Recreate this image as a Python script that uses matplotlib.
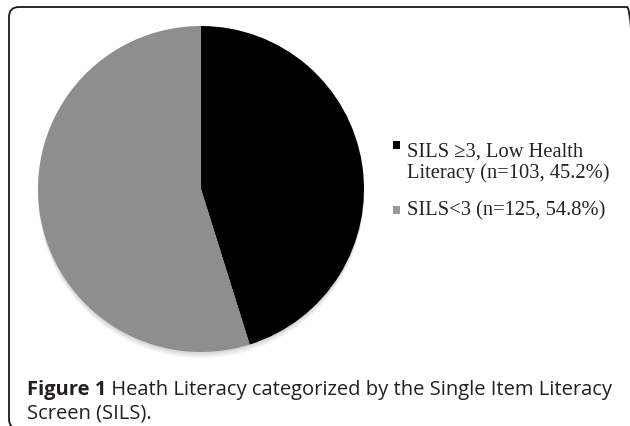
import matplotlib.pyplot as plt
from matplotlib.patches import FancyBboxPatch, Rectangle, Circle
from matplotlib.transforms import IdentityTransform

W, H = 630, 427

labels = ["SILS \u22653, Low Health\nLiteracy", "SILS<3"]
counts = [103, 125]
colors = ["#000000", "#8e8e8e"]
legend_colors = ["#000000", "#999999"]
caption_bold = "Figure 1"
caption_rest = " Heath Literacy categorized by the Single Item Literacy"
caption_line2 = "Screen (SILS)."

total = sum(counts)
pcts = [100 * c / total for c in counts]

fig = plt.figure(figsize=(W / 100, H / 100), dpi=100)


def fx(px):
    return px / W


def fy(py):
    return 1 - py / H


# rounded frame, cut off at right and bottom like the original crop (pixel units)
frame = FancyBboxPatch((9, H - 430), 628, 422,
                       boxstyle="round,pad=0,rounding_size=10",
                       transform=IdentityTransform(), facecolor="none",
                       edgecolor="#1a1a1a", linewidth=1.3)
fig.patches.append(frame)

# pie
cx, cy, r = 201, 190, 163
ax = fig.add_axes([fx(cx - r), fy(cy + r), 2 * r / W, 2 * r / H])
ax.set_aspect("equal")
ax.axis("off")

# soft shadow under the pie
for i in range(3):
    ax.add_patch(Circle((0, -0.012 * (i + 1)), 1.0, color="black", alpha=0.05,
                        linewidth=0, clip_on=False))

ax.pie(counts, colors=colors, startangle=90, counterclock=False, radius=1.0,
       wedgeprops=dict(linewidth=0))
ax.set_xlim(-1.0, 1.0)
ax.set_ylim(-1.0, 1.0)

# legend
rows = [(163, 146), (211, 211)]
for lab, n, p, col, (ty, my) in zip(labels, counts, pcts, legend_colors, rows):
    fig.patches.append(Rectangle((fx(392.5), fy(my + 3.5)), 7.5 / W, 7.5 / H,
                                 transform=fig.transFigure, facecolor=col,
                                 edgecolor="none"))
    fig.text(fx(407), fy(ty), f"{lab} (n={n}, {p:.1f}%)", family="Liberation Serif",
             fontsize=14.8, color="#222222", va="center", ha="left",
             linespacing=1.15)

# caption
cap_kw = dict(family="Open Sans", fontsize=14.5, color="#231f20", va="center")
t1 = fig.text(fx(27), fy(390), caption_bold, fontweight="bold", **cap_kw)
fig.canvas.draw()
bb = t1.get_window_extent()
fig.text(bb.x1 / W, fy(390), caption_rest, **cap_kw)
fig.text(fx(27), fy(414), caption_line2, **cap_kw)

fig.savefig("out.png", dpi=100)
